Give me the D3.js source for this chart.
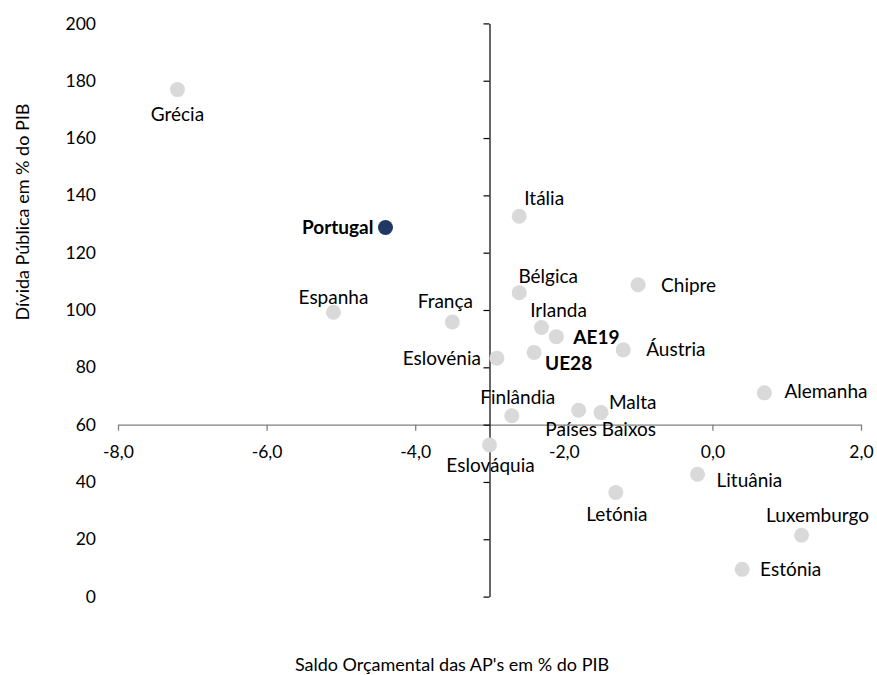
<!DOCTYPE html>
<html>
<head>
<meta charset="utf-8">
<script src="https://cdn.jsdelivr.net/npm/d3@7"></script>
<style>
  html, body { margin: 0; padding: 0; background: #fff; }
  svg text { font-family: Lato, "Open Sans", sans-serif; fill: #000; }
</style>
</head>
<body>
<svg id="chart" width="877" height="675"></svg>
<script>
// Budget balance vs public debt, % of GDP
const countries = ["Grécia","Portugal","Espanha","França","Itália","Bélgica","Chipre","Irlanda","AE19","UE28","Áustria","Eslovénia","Finlândia","Países Baixos","Malta","Eslováquia","Lituânia","Letónia","Alemanha","Luxemburgo","Estónia"];
const balance = [-7.2,-4.4,-5.1,-3.5,-2.6,-2.6,-1.0,-2.3,-2.1,-2.4,-1.2,-2.9,-2.7,-1.8,-1.5,-3.0,-0.2,-1.3,0.7,1.2,0.4];
const debt    = [176.9,128.8,99.2,95.8,132.7,106.0,108.8,93.9,90.7,85.2,86.1,83.2,63.1,65.0,64.2,52.9,42.7,36.3,71.1,21.4,9.5];
const highlighted = ["Portugal"];
const boldLabels = ["Portugal","AE19","UE28"];
const xTicks = [-8,-6,-4,-2,0,2];
const yTicks = [0,20,40,60,80,100,120,140,160,180,200];

// label placement: [anchor, dx, dy] relative to the marker centre
const labelPlacement = {
  "Grécia": ["middle", 0, 25],
  "Portugal": ["end", -12, 0],
  "Espanha": ["middle", 0, -15],
  "França": ["middle", -7, -21],
  "Itália": ["middle", 25, -18],
  "Bélgica": ["middle", 29, -16],
  "Chipre": ["start", 23, 1],
  "Irlanda": ["middle", 17, -17],
  "AE19": ["start", 17, 1],
  "UE28": ["start", 11, 11],
  "Áustria": ["start", 23, 0],
  "Eslovénia": ["end", -16, 0],
  "Finlândia": ["middle", 6, -18],
  "Países Baixos": ["middle", 22, 19],
  "Malta": ["start", 8, -10],
  "Eslováquia": ["middle", 1, 20],
  "Lituânia": ["start", 19, 6],
  "Letónia": ["middle", 1, 22],
  "Alemanha": ["start", 20, -1],
  "Luxemburgo": ["middle", 16, -20],
  "Estónia": ["start", 18, 0]
};

const svg = d3.select("#chart");
const x = d3.scaleLinear().domain([-8, 2]).range([118, 861]);
const y = d3.scaleLinear().domain([0, 200]).range([596.6, 23.4]);

const pt = d3.formatLocale({decimal: ",", thousands: ".", grouping: [3], currency: ["", "€"], minus: "-"});
const fmtX = pt.format(".1f");

// horizontal axis crosses at 60
const xAxis = svg.append("g")
  .attr("transform", `translate(0,${y(60)})`)
  .call(d3.axisBottom(x).tickValues(xTicks).tickFormat(fmtX).tickSize(6).tickPadding(15).tickSizeOuter(0));
xAxis.select(".domain").attr("stroke", "#808080").attr("stroke-width", 1.3);
xAxis.selectAll(".tick line").attr("stroke", "#808080").attr("stroke-width", 1.3);
xAxis.selectAll(".tick text").attr("font-size", 17.5).attr("fill", "#000");

// vertical axis crosses at -3, labels placed at the low end
const yAxisX = x(-3);
const yAxis = svg.append("g")
  .attr("transform", `translate(${yAxisX},0)`)
  .call(d3.axisLeft(y).tickValues(yTicks).tickFormat(d3.format("d")).tickSize(6).tickPadding(yAxisX - 96 - 6).tickSizeOuter(0));
yAxis.select(".domain").attr("stroke", "#000").attr("stroke-width", 1.2);
yAxis.selectAll(".tick line").attr("stroke", "#000").attr("stroke-width", 1.2);
yAxis.selectAll(".tick text").attr("font-size", 17.5).attr("fill", "#000");
svg.selectAll(".tick text").style("font-family", "Lato, sans-serif");

const data = countries.map((c, i) => ({name: c, bx: balance[i], dy: debt[i]}));

svg.append("g").selectAll("circle")
  .data(data)
  .join("circle")
  .attr("cx", d => x(d.bx))
  .attr("cy", d => y(d.dy))
  .attr("r", 7.5)
  .attr("fill", d => highlighted.includes(d.name) ? "#1f3864" : "#d9d9d9");

svg.append("g").selectAll("text")
  .data(data)
  .join("text")
  .attr("x", d => x(d.bx) + labelPlacement[d.name][1])
  .attr("y", d => y(d.dy) + labelPlacement[d.name][2])
  .attr("dy", "0.35em")
  .attr("text-anchor", d => labelPlacement[d.name][0])
  .attr("font-size", 19)
  .attr("font-weight", d => boldLabels.includes(d.name) ? "bold" : "normal")
  .text(d => d.name);

// axis titles
svg.append("text")
  .attr("transform", "translate(23,212) rotate(-90)")
  .attr("text-anchor", "middle")
  .attr("dy", "0.35em")
  .attr("font-size", 18)
  .text("Dívida Pública em % do PIB");

svg.append("text")
  .attr("x", 452).attr("y", 665)
  .attr("text-anchor", "middle")
  .attr("dy", "0.35em")
  .attr("font-size", 18)
  .text("Saldo Orçamental das AP's em % do PIB");
</script>
</body>
</html>
